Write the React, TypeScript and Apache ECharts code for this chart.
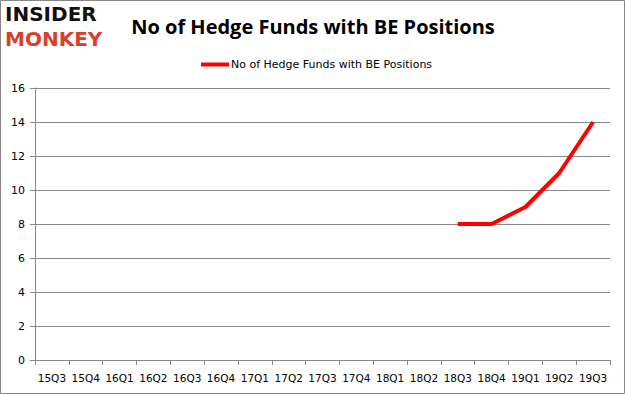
import React, { useEffect, useRef } from "react";
import * as echarts from "echarts";

const categories = ["15Q3","15Q4","16Q1","16Q2","16Q3","16Q4","17Q1","17Q2","17Q3","17Q4","18Q1","18Q2","18Q3","18Q4","19Q1","19Q2","19Q3"];
const seriesName = "No of Hedge Funds with BE Positions";
const values: (number | null)[] = [null,null,null,null,null,null,null,null,null,null,null,null,8,8,9,11,14];
const yTicks = { min: 0, max: 16, interval: 2 };

export default function App() {
  const ref = useRef<HTMLDivElement>(null);
  useEffect(() => {
    if (!ref.current) return;
    const chart = echarts.init(ref.current, undefined, { renderer: "svg" });
    chart.setOption({
      animation: false,
      backgroundColor: "#ffffff",
      title: {
        text: "No of Hedge Funds with BE Positions",
        left: 308,
        textAlign: "center",
        top: 11,
        textStyle: { fontFamily: "Open Sans", fontWeight: "bold", fontSize: 20, color: "#000" },
      },
      legend: {
        top: 54,
        left: 196,
        itemWidth: 28,
        itemHeight: 4,
        itemGap: 2,
        icon: "rect",
        data: [{ name: seriesName, itemStyle: { color: "#ff0000" } }],
        textStyle: { fontFamily: "DejaVu Sans", fontSize: 11, color: "#000", padding: [0, 0, 0, -3] },
      },
      grid: { left: 35, right: 15, top: 88, bottom: 34, containLabel: false },
      xAxis: {
        type: "category",
        data: categories,
        boundaryGap: true,
        axisLine: { lineStyle: { color: "#888", width: 1 } },
        axisTick: { show: true, alignWithLabel: false, length: 5, lineStyle: { color: "#888" } },
        axisLabel: { fontFamily: "DejaVu Sans", fontSize: 10.5, color: "#000", margin: 12, interval: 0 },
        splitLine: { show: false },
      },
      yAxis: {
        type: "value",
        min: yTicks.min,
        max: yTicks.max,
        interval: yTicks.interval,
        axisLine: { show: true, lineStyle: { color: "#888", width: 1 } },
        axisTick: { show: true, length: 5, lineStyle: { color: "#888" } },
        axisLabel: { fontFamily: "DejaVu Sans", fontSize: 11, color: "#000", margin: 10 },
        splitLine: { show: true, lineStyle: { color: "#888", width: 1 } },
      },
      series: [
        {
          name: seriesName,
          type: "line",
          data: values,
          symbol: "none",
          connectNulls: false,
          lineStyle: { color: "#ff0000", width: 4 },
          itemStyle: { color: "#ff0000" },
        },
      ],
      graphic: [
        {
          type: "rect",
          shape: { x: 0.5, y: 0.5, width: 624, height: 393 },
          style: { fill: "none", stroke: "#888", lineWidth: 1 },
          silent: true,
        },
        {
          type: "text",
          left: 5,
          top: 4,
          style: { text: "INSIDER", font: "900 20px 'DejaVu Sans'", fill: "#111" },
        },
        {
          type: "text",
          left: 5,
          top: 29,
          style: { text: "MONKEY", font: "900 20px 'DejaVu Sans'", fill: "#d9402b" },
        },
      ],
    });
    return () => chart.dispose();
  }, []);
  return <div ref={ref} style={{ position: "absolute", left: 0, top: 0, width: 625, height: 394 }} />;
}
